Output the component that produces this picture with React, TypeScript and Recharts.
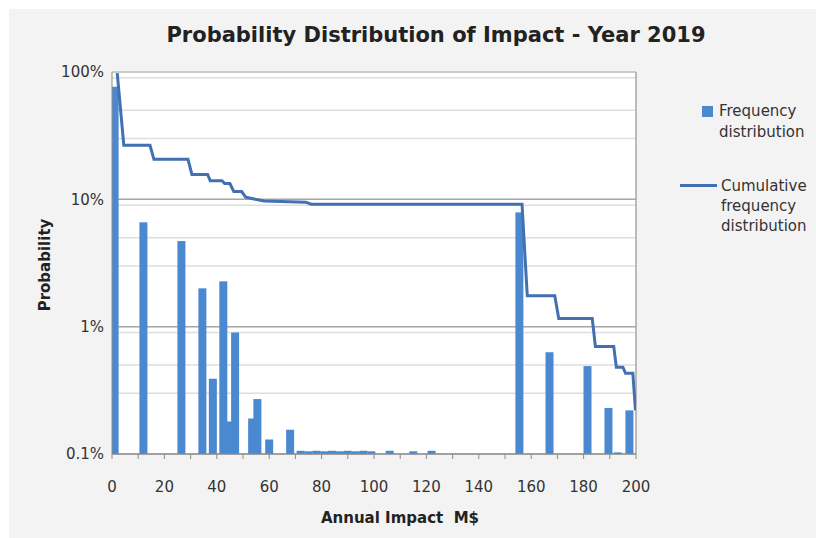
import React from 'react';
import {
  ComposedChart,
  Bar,
  Line,
  XAxis,
  YAxis,
  CartesianGrid,
  ReferenceLine,
} from 'recharts';

// Frequency distribution: annual impact (M$) and probability of each outcome
const freqImpact = [
  1, 12, 26.5, 34.5, 38.5, 42.5, 44.5, 47, 53.5, 55.5, 60, 68,
  72, 75, 78, 81, 84, 87, 90, 93, 96, 99, 106, 115, 122,
  155.5, 167, 181.5, 189.5, 193, 197.5,
];
const freqProb = [
  0.766, 0.066, 0.047, 0.02, 0.0039, 0.0227, 0.0018, 0.009, 0.0019, 0.0027, 0.0013, 0.00155,
  0.00106, 0.00105, 0.00106, 0.00105, 0.00106, 0.00105, 0.00106, 0.00105, 0.00106, 0.00105, 0.00106, 0.00105, 0.00106,
  0.079, 0.0063, 0.0049, 0.0023, 0.00103, 0.0022,
];

// Cumulative (exceedance) frequency distribution, corner points of the steps
const cumImpact = [
  2, 4.5, 14.5, 16, 29, 30.5, 36.5, 37.5, 42, 43, 45, 46.5, 49.5, 51, 58, 74, 76,
  156.5, 158.5, 169, 170.5, 183.3, 184.5, 191.5, 192.5, 195, 196, 198.8, 199.8,
];
const cumProb = [
  0.98, 0.266, 0.266, 0.206, 0.206, 0.157, 0.157, 0.14, 0.14, 0.133, 0.133, 0.115, 0.115, 0.104, 0.097, 0.095, 0.0915,
  0.0915, 0.0175, 0.0175, 0.0116, 0.0116, 0.007, 0.007, 0.0048, 0.0048, 0.0043, 0.0043, 0.0022,
];

const xTicks = [0, 10, 20, 30, 40, 50, 60, 70, 80, 90, 100, 110, 120, 130, 140, 150, 160, 170, 180, 190, 200];
const yTicks = [0.001, 0.01, 0.1, 1];
const yTickLabels = ['0.1%', '1%', '10%', '100%'];
const minorGrid = [
  0.002, 0.003, 0.004, 0.005, 0.006, 0.007, 0.008, 0.009,
  0.02, 0.03, 0.04, 0.05, 0.06, 0.07, 0.08, 0.09,
  0.2, 0.3, 0.4, 0.5, 0.6, 0.7, 0.8, 0.9,
];

const BAR_COLOR = '#4a89cf';
const LINE_COLOR = '#4270b3';
const FONT = '"DejaVu Sans", sans-serif';

type Row = { x: number; freq?: number; cum?: number };

const rows: Row[] = (() => {
  const map = new Map<number, Row>();
  freqImpact.forEach((x, i) => map.set(x, { ...(map.get(x) || { x }), freq: freqProb[i] }));
  cumImpact.forEach((x, i) => map.set(x, { ...(map.get(x) || { x }), cum: cumProb[i] }));
  return Array.from(map.values()).sort((a, b) => a.x - b.x);
})();

// fixed-width bar centred on its x value
const ThinBar = (props: any) => {
  const { x, y, width, height } = props;
  if (!(height > 0) || !isFinite(x)) return null;
  const w = 8;
  return <rect x={x + width / 2 - w / 2} y={y} width={w} height={height} fill={BAR_COLOR} />;
};

export default function App() {
  return (
    <div style={{ position: 'absolute', left: 0, top: 0, width: 816, height: 538, background: '#fff', fontFamily: FONT, overflow: 'hidden' }}>
      <div style={{ position: 'absolute', left: 9, top: 9, right: 0, bottom: 0, background: '#f3f3f3' }} />
      <div style={{ position: 'absolute', left: 0, top: 0 }}>
        <ComposedChart width={816} height={538} data={rows} margin={{ top: 72, right: 180, bottom: 54, left: 52 }}>
          {/* minor log grid from a hidden axis, then the decade lines */}
          <CartesianGrid yAxisId="minor" fill="#fff" vertical={false} stroke="#dedede" strokeWidth={1.5} />
          <CartesianGrid vertical={false} stroke="#a6a6a6" strokeWidth={1.5} />
          <XAxis
            dataKey="x"
            type="number"
            domain={[0, 200]}
            ticks={xTicks}
            allowDataOverflow
            height={30}
            tickSize={5}
            tickMargin={22}
            stroke="#8c8c8c"
            tickFormatter={(v: number) => (v % 20 === 0 ? String(v) : '')}
            tick={{ fontSize: 15, fill: '#333', fontFamily: FONT }}
          />
          <YAxis
            scale="log"
            domain={[0.001, 1]}
            ticks={yTicks}
            allowDataOverflow
            width={60}
            tickLine={false}
            tickSize={4}
            tickMargin={4}
            stroke="#8c8c8c"
            tickFormatter={(v: number) => yTickLabels[yTicks.indexOf(v)]}
            tick={{ fontSize: 15, fill: '#333', fontFamily: FONT }}
          />
          <YAxis yAxisId="minor" scale="log" domain={[0.001, 1]} ticks={minorGrid} allowDataOverflow hide />
          <ReferenceLine y={1} stroke="#d0d0d0" strokeWidth={1.5} />
          <ReferenceLine x={200} stroke="#a6a6a6" strokeWidth={1.5} />
          <Bar dataKey="freq" shape={ThinBar} isAnimationActive={false} />
          <Line
            dataKey="cum"
            type="linear"
            stroke={LINE_COLOR}
            strokeWidth={3}
            dot={false}
            connectNulls
            isAnimationActive={false}
          />
        </ComposedChart>
      </div>

      <div style={{ position: 'absolute', left: 436, top: 25, transform: 'translateX(-50%)', whiteSpace: 'nowrap', fontSize: 21, fontWeight: 'bold', lineHeight: 1, color: '#222' }}>
        Probability Distribution of Impact - Year 2019
      </div>
      <div style={{ position: 'absolute', left: 45, top: 265, transform: 'translate(-50%, -50%) rotate(-90deg)', whiteSpace: 'nowrap', fontSize: 15, fontWeight: 'bold', color: '#222' }}>
        Probability
      </div>
      <div style={{ position: 'absolute', left: 400, top: 518, transform: 'translate(-50%, -50%)', whiteSpace: 'nowrap', fontSize: 15, fontWeight: 'bold', color: '#222' }}>
        Annual Impact&nbsp;&nbsp;M$
      </div>

      {/* legend */}
      <div style={{ position: 'absolute', left: 702, top: 106, width: 11, height: 11, background: BAR_COLOR }} />
      <div style={{ position: 'absolute', left: 719, top: 101, fontSize: 15, lineHeight: '21px', color: '#333' }}>
        Frequency<br />distribution
      </div>
      <div style={{ position: 'absolute', left: 680, top: 184, width: 37, height: 3, background: LINE_COLOR }} />
      <div style={{ position: 'absolute', left: 721, top: 176, fontSize: 15, lineHeight: '20px', color: '#333' }}>
        Cumulative<br />frequency<br />distribution
      </div>
    </div>
  );
}
